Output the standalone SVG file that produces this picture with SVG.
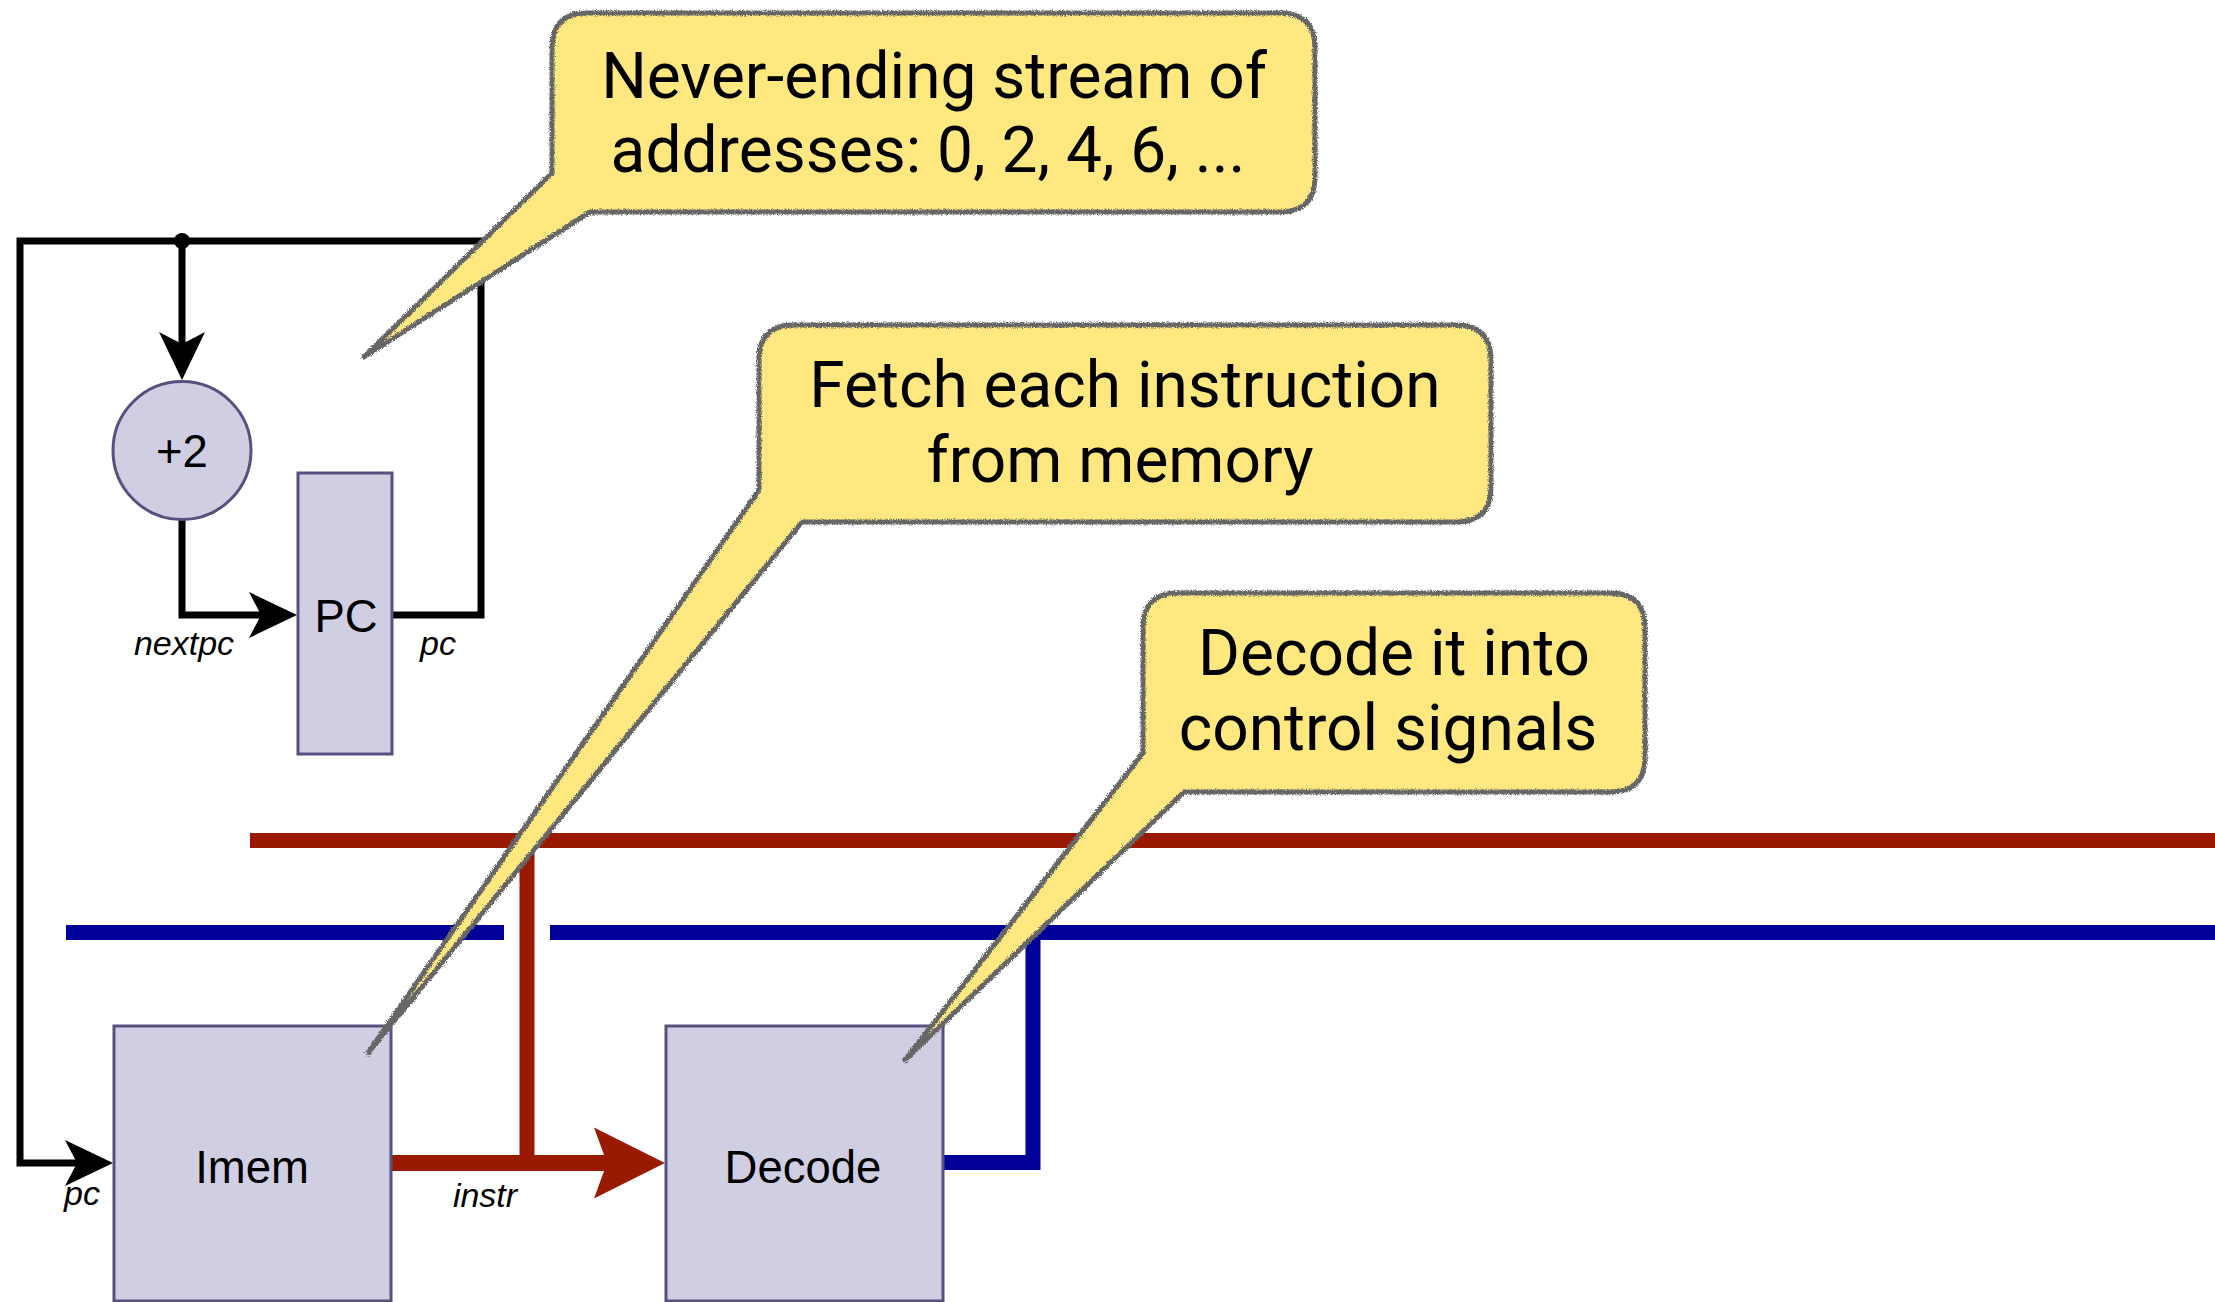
<svg xmlns="http://www.w3.org/2000/svg" width="2215" height="1302" viewBox="0 0 2215 1302">
<style>
.node{fill:#D0CEE2;stroke:#56517E;stroke-width:3}
.nlabel{font-family:"Liberation Sans",Arial,sans-serif;font-size:45.5px;fill:#000;text-anchor:middle}
.wlabel{font-family:"Liberation Sans",Arial,sans-serif;font-size:34px;font-style:italic;fill:#000;text-anchor:middle}
.blk{fill:none;stroke:#000;stroke-width:7;stroke-linejoin:miter}
.red{fill:none;stroke:#991A00;stroke-width:15}
.blue{fill:none;stroke:#000099;stroke-width:15}
.cfill{fill:#FFE880;stroke:none}
.cline{fill:none;stroke:#666666;stroke-width:5;stroke-linejoin:round}
.ctext{font-family:Roboto,"Liberation Sans",sans-serif;font-size:64px;fill:#000;text-anchor:middle}
</style>
<defs>
<marker id="ab" markerUnits="userSpaceOnUse" viewBox="-14 -25 52 50" refX="0" refY="0" markerWidth="52" markerHeight="50" orient="auto">
<path d="M36,0 L-12,-23 L0,0 L-12,23 Z" fill="#000"/>
</marker>
<marker id="ar" markerUnits="userSpaceOnUse" viewBox="-15 -37 75 74" refX="0" refY="0" markerWidth="75" markerHeight="74" orient="auto">
<path d="M58,0 L-13,-35.5 L0,0 L-13,35.5 Z" fill="#991A00"/>
</marker>
<filter id="rough" filterUnits="userSpaceOnUse" x="0" y="0" width="2215" height="1302">
<feTurbulence type="fractalNoise" baseFrequency="0.8" numOctaves="2" seed="4" result="n"/>
<feDisplacementMap in="SourceGraphic" in2="n" scale="4.5" xChannelSelector="R" yChannelSelector="G"/>
</filter>
</defs>
<rect width="2215" height="1302" fill="#fff"/>

<g id="connectors">
<path class="red" d="M250,840.5 H2215"/>
<path class="blue" d="M66,932.5 H504"/>
<path class="blue" d="M550,932.5 H2215"/>
<path class="blk" d="M182,241 V344" marker-end="url(#ab)"/>
<path class="blk" d="M182,520 V615 H261" marker-end="url(#ab)"/>
<path class="blk" d="M392,615 H481 V241 H20 V1163 H77" marker-end="url(#ab)"/>
<circle cx="182" cy="241" r="8" fill="#000"/>
<path class="red" d="M527,840 V1163"/>
<path fill="none" stroke="#991A00" stroke-width="16" d="M391,1163 H607" marker-end="url(#ar)"/>
<path class="blue" d="M943,1162.5 H1033 V932.5"/>
<text class="wlabel" x="184" y="655">nextpc</text>
<text class="wlabel" x="438" y="655">pc</text>
<text class="wlabel" x="82" y="1205">pc</text>
<text class="wlabel" x="485" y="1207">instr</text>
</g>

<g id="plus2">
<circle class="node" cx="182" cy="450.5" r="69"/>
<text class="nlabel" x="182" y="467">+2</text>
</g>
<g id="pc">
<rect class="node" x="298" y="473" width="94" height="281"/>
<text class="nlabel" x="346" y="632">PC</text>
</g>
<g id="imem">
<rect class="node" x="114" y="1026" width="277" height="275"/>
<text class="nlabel" x="252" y="1183">Imem</text>
</g>
<g id="decode">
<rect class="node" x="666" y="1026" width="277" height="275"/>
<text class="nlabel" x="803" y="1183">Decode</text>
</g>

<g id="callout1">
<path class="cfill" d="M587,13 H1280 Q1315,13 1315,48 V177 Q1315,212 1280,212 H590 L364,357 L552,173 V48 Q552,13 587,13 Z"/>
<path class="cline" filter="url(#rough)" d="M587,13 H1280 Q1315,13 1315,48 V177 Q1315,212 1280,212 H590 L364,357 L552,173 V48 Q552,13 587,13 Z"/>
<text class="ctext" x="934" y="98">Never-ending stream of</text>
<text class="ctext" x="928" y="172">addresses: 0, 2, 4, 6, ...</text>
</g>
<g id="callout2">
<path class="cfill" d="M794,325 H1456 Q1491,325 1491,360 V487 Q1491,522 1456,522 H802 L368,1053 L759,490 V360 Q759,325 794,325 Z"/>
<path class="cline" filter="url(#rough)" d="M794,325 H1456 Q1491,325 1491,360 V487 Q1491,522 1456,522 H802 L368,1053 L759,490 V360 Q759,325 794,325 Z"/>
<text class="ctext" x="1125" y="407">Fetch each instruction</text>
<text class="ctext" x="1120" y="482">from memory</text>
</g>
<g id="callout3">
<path class="cfill" d="M1178,593 H1610 Q1645,593 1645,628 V757 Q1645,792 1610,792 H1184 L905,1060 L1143,753 V628 Q1143,593 1178,593 Z"/>
<path class="cline" filter="url(#rough)" d="M1178,593 H1610 Q1645,593 1645,628 V757 Q1645,792 1610,792 H1184 L905,1060 L1143,753 V628 Q1143,593 1178,593 Z"/>
<text class="ctext" x="1394" y="675">Decode it into</text>
<text class="ctext" x="1388" y="750">control signals</text>
</g>
</svg>
